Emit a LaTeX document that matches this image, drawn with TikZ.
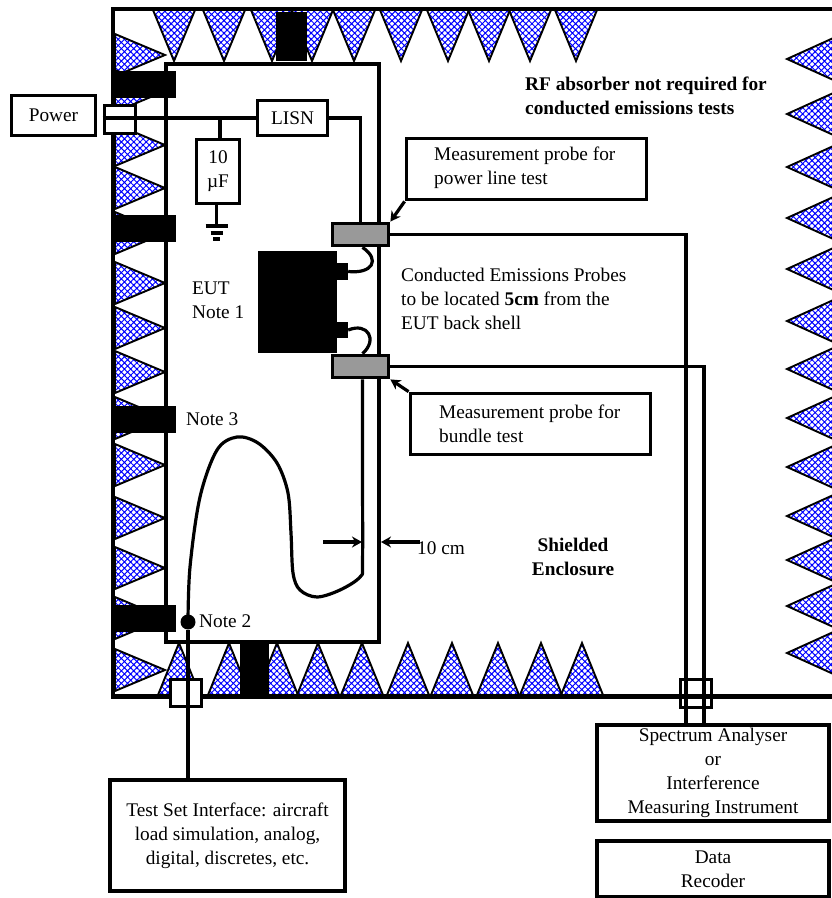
\documentclass[tikz,border=0pt]{standalone}
\usepackage{fontspec}
\setmainfont{Liberation Serif}
\usetikzlibrary{arrows.meta,patterns.meta}
\tikzset{
  absorber/.style={draw=black,line width=1.9pt,line join=miter,pattern={Hatch[angle=45,distance=4.4pt,line width=1pt]},pattern color=blue},
  wire/.style={line width=3.2pt},
  boxnode/.style={draw=black,line width=3.8pt,inner sep=0pt,align=center,font=\fontsize{19.3}{24}\selectfont},
  block/.style={fill=black,inner sep=0pt},
  probenode/.style={draw=black,line width=3.8pt,fill=black!40,inner sep=0pt,minimum width=56pt,minimum height=22pt},
  feednode/.style={draw=black,line width=3.6pt,inner sep=0pt},
  label/.style={inner sep=0pt,align=left,anchor=west,font=\fontsize{19.3}{24}\selectfont},
  pointer/.style={line width=3.2pt,-{Stealth[length=10pt,width=11pt]}}
}
\begin{document}
\begin{tikzpicture}[x=1pt,y=-1pt]
            \clip (0,0) rectangle (832,898);

            %absorbers
            \foreach \y in {55,91,145,188,233,283,328,372,418,465,518,568,618,670}
              \draw[absorber] (115,\y-21) -- (165,\y) -- (115,\y+21) -- cycle;

            \foreach \x in {174,224,272,312,354,401,448,489,530,576}
              \draw[absorber] (\x-21,10) -- (\x,61) -- (\x+21,10) -- cycle;

            \foreach \x in {179,229,277,318,362,408,452,498,541,582}
              \draw[absorber] (\x-21,695) -- (\x,643) -- (\x+21,695) -- cycle;

            \foreach \y in {59,114,167,218,269,321,369,418,467,516,560,606,653}
              \draw[absorber] (840,\y-24) -- (787,\y) -- (840,\y+24);

            %enclosure
            \draw[line width=4.2pt] (832,9) -- (113,9) -- (113,696.5) -- (832,696.5);

            \node[boxnode,minimum width=213pt,minimum height=578pt] (eut) at (272.5,353) {};

            %blocks
            \node[block,minimum width=64pt,minimum height=27pt] (blockone) at (144,84) {};
            \node[block,minimum width=64pt,minimum height=27pt] (blocktwo) at (144,228.5) {};
            \node[block,minimum width=64pt,minimum height=27pt] (blockthree) at (144,419.5) {};
            \node[block,minimum width=64pt,minimum height=27pt] (blockfour) at (144,618) {};
            \node[block,minimum width=31pt,minimum height=49pt] (blocktop) at (291.5,36) {};
            \node[block,minimum width=29pt,minimum height=56pt] (blockbottom) at (254.5,669) {};

            %power side
            \node[boxnode,minimum width=84pt,minimum height=40pt] (power) at (53.5,115.5) {Power};
            \node[feednode,fill=white,minimum width=31pt,minimum height=28pt] (feedpower) at (120,119.5) {};
            \node[boxnode,minimum width=70pt,minimum height=35pt] (lisn) at (292.5,118) {LISN};
            \node[boxnode,minimum width=43pt,minimum height=64pt] (cap) at (218,171.5) {10\\µF};

            \draw[wire] (feedpower.west |- lisn.west) -- (lisn.west);
            \draw[wire] ([xshift=2pt]cap.north |- lisn.west) -- ([xshift=2pt]cap.north);

            \coordinate (gnd) at (216.5,226);
            \draw[wire] (cap.south -| gnd) -- (gnd);
            \draw[wire] ([xshift=-11pt]gnd) -- ([xshift=11pt]gnd);
            \draw[wire] ([xshift=-6pt,yshift=-7pt]gnd) -- ([xshift=6pt,yshift=-7pt]gnd);
            \draw[wire] ([xshift=-3.5pt,yshift=-13pt]gnd) -- ([xshift=3.5pt,yshift=-13pt]gnd);

            %equipment under test
            \node[block,minimum width=79pt,minimum height=102pt] (unit) at (297.5,302) {};
            \node[block,minimum width=11pt,minimum height=17pt] (nubtop) at (342.5,271.5) {};
            \node[block,minimum width=11pt,minimum height=16pt] (nubbottom) at (342.5,330) {};

            \node[probenode] (probepower) at (360.5,234.5) {};
            \node[probenode] (probebundle) at (360.5,366.5) {};

            \draw[wire] (lisn.east) -| (probepower.north);
            \draw[wire] (nubtop.east) .. controls (372,274) and (381,260) .. ([xshift=2pt]probepower.south);
            \draw[wire] (nubbottom.east) .. controls (368,322) and (378,340) .. ([xshift=2pt]probebundle.north);

            %analyser and recorder
            \node[boxnode,minimum width=232pt,minimum height=96pt] (analyser) at (713,773) {Spectrum Analyser\\or\\Interference\\Measuring Instrument};
            \node[boxnode,minimum width=232pt,minimum height=56pt] (recoder) at (713,869) {Data\\Recoder};
            \node[feednode,minimum width=31pt,minimum height=28pt] (feedright) at (696,693.5) {};

            \draw[wire] (probepower.east) -| ([xshift=-27pt]analyser.north);
            \draw[wire] (probebundle.east) -| ([xshift=-9pt]analyser.north);

            %test set
            \node[boxnode,minimum width=235pt,minimum height=111pt] (testset) at (227.5,835.5) {Test Set Interface: aircraft\\load simulation, analog,\\digital, discretes, etc.};
            \node[feednode,fill=white,minimum width=31pt,minimum height=27pt] (feedtest) at (186,693) {};
            \node[circle,fill=black,inner sep=0pt,minimum size=15pt] (dot) at (188,622) {};

            \draw[wire] (dot) -- (dot |- testset.north);
            \draw[wire,line join=round] plot[smooth,tension=0.55] coordinates {([xshift=2pt]probebundle.south) (362.5,470) (362.5,562) (360,577) (340,590) (317,597) (300,590) (293,573) (291,533) (288,493) (277,463) (258,443) (237,437) (217,450) (200,497) (190,567) (dot)};

            %probe callouts
            \node[boxnode,minimum width=240pt,minimum height=61pt] (calloutpower) at (526.5,169) {};
            \node[boxnode,minimum width=240pt,minimum height=61pt] (calloutbundle) at (530.5,424) {};

            \draw[pointer] (calloutpower.south west) -- (probepower.north east);
            \draw[pointer] (calloutbundle.north west) -- (probebundle.south east);

            %gap arrows
            \coordinate (gapleft) at (323,542);
            \coordinate (gapinner) at (362,542);
            \coordinate (gapright) at (420,542);
            \coordinate (gapouter) at (381,542);
            \draw[pointer] (gapleft) -- (gapinner);
            \draw[pointer] (gapright) -- (gapouter);

            %labels
            \node[label] (labelprobeone) at (434,168) {Measurement probe for\\power line test};
            \node[label] (labelprobetwo) at (439,424) {Measurement probe for\\bundle test};
            \node[label] (labeleut) at (192,300) {EUT\\Note 1};
            \node[label] (labelthree) at (186,419) {Note 3};
            \node[label] (labeltwo) at (199,621) {Note 2};
            \node[label] (labelgap) at (417,548) {10 cm};
            \node[label,font=\fontsize{19.3}{24}\selectfont\bfseries] (labelrf) at (525,96) {RF absorber not required for\\conducted emissions tests};
            \node[label] (labelprobes) at (401,299) {Conducted Emissions Probes\\to be located \textbf{5cm} from the\\EUT back shell};
            \node[label,align=center,anchor=center,font=\fontsize{19.3}{24}\selectfont\bfseries] (labelshield) at (573,557) {Shielded\\Enclosure};
\end{tikzpicture}
\end{document}
